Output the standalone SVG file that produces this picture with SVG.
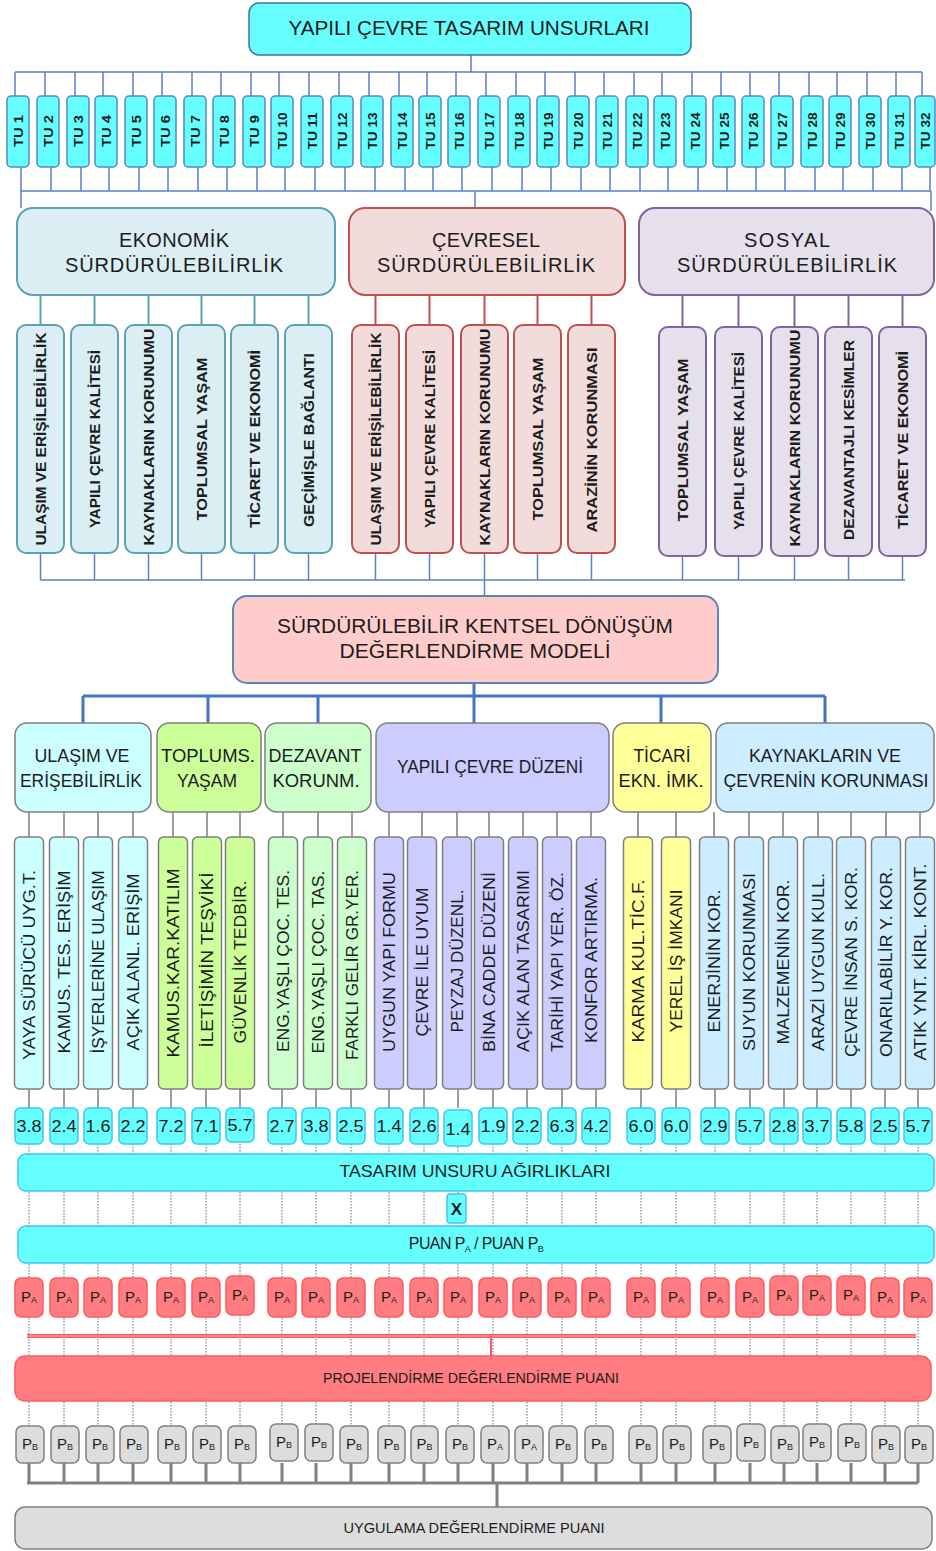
<svg xmlns="http://www.w3.org/2000/svg" width="936" height="1551" viewBox="0 0 936 1551">
<style>
text{font-family:"Liberation Sans",Arial,sans-serif;fill:#1c1c1c;text-anchor:middle}
.cb{fill:none;stroke:#5A82C4;stroke-width:1.5}
.cteal{fill:none;stroke:#5BA3B3;stroke-width:2}
.cred{fill:none;stroke:#C0504D;stroke-width:2}
.cpur{fill:none;stroke:#8064A2;stroke-width:2}
.cthick{fill:none;stroke:#4472C4;stroke-width:3}
.cgray{fill:none;stroke:#7F7F7F;stroke-width:1.5}
.cdot{fill:none;stroke:#6A85A8;stroke-width:1.2;stroke-dasharray:1.5 1.5}
.cgthick{fill:none;stroke:#808080;stroke-width:3}
.tu{fill:#66FFFF;stroke:#5B86C5;stroke-width:1.5}
.tut{font-size:13px;font-weight:bold}
.eko{fill:#DAEEF3;stroke:#5BA3B3;stroke-width:2}
.cev{fill:#F2DCDB;stroke:#C0504D;stroke-width:2}
.sos{fill:#E6E0EC;stroke:#8064A2;stroke-width:2}
.ht{font-size:20px}
.st{font-size:15px;font-weight:bold}
.cat{stroke:#7F7F7F;stroke-width:1.5}
.catt{font-size:18px}
.cr{stroke:#7F7F7F;stroke-width:1.5}
.crt{font-size:16px}
.num{fill:#66FFFF;stroke:#3CC8F5;stroke-width:1.5}
.numt{font-size:16px}
.bar{fill:#66FFFF;stroke:#3CC8F5;stroke-width:1.5}
.pa{fill:#FF7C80;stroke:#FF5A5F;stroke-width:1.5}
.pb{fill:#DDDDDD;stroke:#808080;stroke-width:1.5}
.pt{font-size:15px}
.sb{font-size:9px}
.f1{fill:#CCFFFF}.f2{fill:#CCFF99}.f3{fill:#CCFFCC}.f4{fill:#CCCCFF}.f5{fill:#FFFF99}.f6{fill:#CCECFF}
</style>

<!-- connectors -->
<g id="connectors">
  <path class="cb" d="M471 55V72 M15 72H922 M15 72V96 M45 72V96 M75 72V96 M103 72V96 M133 72V96 M162 72V96 M192 72V96 M221 72V96 M251 72V96 M279 72V96 M309 72V96 M339 72V96 M369 72V96 M399 72V96 M427 72V96 M456 72V96 M486 72V96 M516 72V96 M545 72V96 M575 72V96 M604 72V96 M634 72V96 M662 72V96 M692 72V96 M721 72V96 M750 72V96 M779 72V96 M809 72V96 M837 72V96 M867 72V96 M896 72V96 M922 72V96"/>
  <path class="cb" d="M21 191H931 M21 167V208 M51 167V191 M81 167V191 M109 167V191 M139 167V191 M168 167V191 M198 167V191 M227 167V191 M257 167V191 M285 167V191 M315 167V191 M345 167V191 M375 167V191 M405 167V191 M433 167V191 M462 167V191 M492 167V191 M522 167V191 M551 167V191 M581 167V191 M610 167V191 M640 167V191 M668 167V191 M698 167V191 M727 167V191 M756 167V191 M785 167V191 M815 167V191 M843 167V191 M873 167V191 M902 167V191 M930 167V191 M475 191V208 M931 191V211"/>
  <path class="cteal" d="M40.5 295V325 M94.5 295V325 M148.5 295V325 M201.5 295V325 M254.5 295V325 M308.5 295V325"/>
  <path class="cred" d="M375.5 295V325 M429.5 295V325 M484.5 295V325 M537.5 295V325 M591.5 295V325"/>
  <path class="cpur" d="M682.5 295V327 M738.5 295V327 M794.5 295V327 M848.5 295V327 M902.5 295V327"/>
  <path class="cb" d="M40.5 580H905 M40.5 553V580 M94.5 553V580 M148.5 553V580 M201.5 553V580 M254.5 553V580 M308.5 553V580 M375.5 553V580 M429.5 553V580 M484.5 553V596 M537.5 553V580 M591.5 553V580 M682.5 556V580 M738.5 556V580 M794.5 556V580 M848.5 556V580 M902.5 556V580"/>
  <path class="cthick" d="M474 683V723 M83 696H825 M83 696V723 M208 696V723 M318 696V723 M661 696V723 M825 696V723"/>
  <path class="cgray" d="M29 812V837 M64 812V837 M98 812V837 M133 812V837 M173 812V837 M207 812V837 M240 812V837 M283 812V837 M318 812V837 M352 812V837 M389 812V837 M422 812V837 M457 812V837 M489 812V837 M523 812V837 M557 812V837 M591 812V837 M638 812V837 M676 812V837 M714 812V837 M749 812V837 M783 812V837 M818 812V837 M851 812V837 M886 812V837 M920 812V837"/>
  <path class="cgray" d="M29 1089V1108 M64 1089V1108 M98 1089V1108 M133 1089V1108 M171 1089V1108 M206 1089V1108 M240 1089V1108 M282 1089V1108 M316 1089V1108 M351 1089V1108 M389 1089V1108 M424 1089V1108 M458 1089V1108 M493 1089V1108 M527 1089V1108 M562 1089V1108 M596 1089V1108 M641 1089V1108 M676 1089V1108 M715 1089V1108 M750 1089V1108 M784 1089V1108 M817 1089V1108 M851 1089V1108 M885 1089V1108 M918 1089V1108"/>
  <path class="cdot" d="M29 1144V1426 M64 1144V1426 M98 1144V1426 M133 1144V1426 M171 1144V1426 M206 1144V1426 M240 1144V1426 M282 1144V1426 M316 1144V1426 M351 1144V1426 M389 1144V1426 M424 1144V1426 M458 1144V1426 M493 1144V1426 M527 1144V1426 M562 1144V1426 M596 1144V1426 M641 1144V1426 M676 1144V1426 M715 1144V1426 M750 1144V1426 M784 1144V1426 M817 1144V1426 M851 1144V1426 M885 1144V1426 M918 1144V1426"/>
  <path d="M27 1336H916" fill="none" stroke="#FF5A5F" stroke-width="4"/>
  <path d="M27 1336H916" fill="none" stroke="#FFB3B5" stroke-width="1.2"/>
  <path d="M491 1336V1356" fill="none" stroke="#FF5A5F" stroke-width="2"/>
  <path class="cgthick" d="M27 1483H918 M29 1463V1483 M64 1463V1483 M98 1463V1483 M133 1463V1483 M171 1463V1483 M206 1463V1483 M240 1463V1483 M282 1463V1483 M316 1463V1483 M351 1463V1483 M389 1463V1483 M424 1463V1483 M458 1463V1483 M493 1463V1483 M527 1463V1483 M562 1463V1483 M596 1463V1483 M641 1463V1483 M676 1463V1483 M715 1463V1483 M750 1463V1483 M784 1463V1483 M817 1463V1483 M851 1463V1483 M885 1463V1483 M918 1463V1483 M497 1483V1507"/>
</g>

<!-- root -->
<g id="root">
  <rect x="249" y="3" width="442" height="52" rx="10" fill="#66FFFF" stroke="#41719C" stroke-width="1.5"/>
  <text x="469" y="35" font-size="21" textLength="361" lengthAdjust="spacingAndGlyphs">YAPILI ÇEVRE TASARIM UNSURLARI</text>
</g>

<!-- design elements TU 1..32 -->
<g id="tu-elements">
  <g id="tu1"><rect class="tu" x="7" y="96" width="22" height="71" rx="4"/><text class="tut" transform="translate(18,131) rotate(-90)" y="4.5" textLength="32" lengthAdjust="spacingAndGlyphs">TU 1</text></g>
  <g id="tu2"><rect class="tu" x="37" y="96" width="22" height="71" rx="4"/><text class="tut" transform="translate(48,131) rotate(-90)" y="4.5" textLength="32" lengthAdjust="spacingAndGlyphs">TU 2</text></g>
  <g id="tu3"><rect class="tu" x="67" y="96" width="22" height="71" rx="4"/><text class="tut" transform="translate(78,131) rotate(-90)" y="4.5" textLength="32" lengthAdjust="spacingAndGlyphs">TU 3</text></g>
  <g id="tu4"><rect class="tu" x="95" y="96" width="22" height="71" rx="4"/><text class="tut" transform="translate(106,131) rotate(-90)" y="4.5" textLength="32" lengthAdjust="spacingAndGlyphs">TU 4</text></g>
  <g id="tu5"><rect class="tu" x="125" y="96" width="22" height="71" rx="4"/><text class="tut" transform="translate(136,131) rotate(-90)" y="4.5" textLength="32" lengthAdjust="spacingAndGlyphs">TU 5</text></g>
  <g id="tu6"><rect class="tu" x="154" y="96" width="22" height="71" rx="4"/><text class="tut" transform="translate(165,131) rotate(-90)" y="4.5" textLength="32" lengthAdjust="spacingAndGlyphs">TU 6</text></g>
  <g id="tu7"><rect class="tu" x="184" y="96" width="22" height="71" rx="4"/><text class="tut" transform="translate(195,131) rotate(-90)" y="4.5" textLength="32" lengthAdjust="spacingAndGlyphs">TU 7</text></g>
  <g id="tu8"><rect class="tu" x="213" y="96" width="22" height="71" rx="4"/><text class="tut" transform="translate(224,131) rotate(-90)" y="4.5" textLength="32" lengthAdjust="spacingAndGlyphs">TU 8</text></g>
  <g id="tu9"><rect class="tu" x="243" y="96" width="22" height="71" rx="4"/><text class="tut" transform="translate(254,131) rotate(-90)" y="4.5" textLength="32" lengthAdjust="spacingAndGlyphs">TU 9</text></g>
  <g id="tu10"><rect class="tu" x="271" y="96" width="22" height="71" rx="4"/><text class="tut" transform="translate(282,131) rotate(-90)" y="4.5" textLength="37" lengthAdjust="spacingAndGlyphs">TU 10</text></g>
  <g id="tu11"><rect class="tu" x="301" y="96" width="22" height="71" rx="4"/><text class="tut" transform="translate(312,131) rotate(-90)" y="4.5" textLength="37" lengthAdjust="spacingAndGlyphs">TU 11</text></g>
  <g id="tu12"><rect class="tu" x="331" y="96" width="22" height="71" rx="4"/><text class="tut" transform="translate(342,131) rotate(-90)" y="4.5" textLength="37" lengthAdjust="spacingAndGlyphs">TU 12</text></g>
  <g id="tu13"><rect class="tu" x="361" y="96" width="22" height="71" rx="4"/><text class="tut" transform="translate(372,131) rotate(-90)" y="4.5" textLength="37" lengthAdjust="spacingAndGlyphs">TU 13</text></g>
  <g id="tu14"><rect class="tu" x="391" y="96" width="22" height="71" rx="4"/><text class="tut" transform="translate(402,131) rotate(-90)" y="4.5" textLength="37" lengthAdjust="spacingAndGlyphs">TU 14</text></g>
  <g id="tu15"><rect class="tu" x="419" y="96" width="22" height="71" rx="4"/><text class="tut" transform="translate(430,131) rotate(-90)" y="4.5" textLength="37" lengthAdjust="spacingAndGlyphs">TU 15</text></g>
  <g id="tu16"><rect class="tu" x="448" y="96" width="22" height="71" rx="4"/><text class="tut" transform="translate(459,131) rotate(-90)" y="4.5" textLength="37" lengthAdjust="spacingAndGlyphs">TU 16</text></g>
  <g id="tu17"><rect class="tu" x="478" y="96" width="22" height="71" rx="4"/><text class="tut" transform="translate(489,131) rotate(-90)" y="4.5" textLength="37" lengthAdjust="spacingAndGlyphs">TU 17</text></g>
  <g id="tu18"><rect class="tu" x="508" y="96" width="22" height="71" rx="4"/><text class="tut" transform="translate(519,131) rotate(-90)" y="4.5" textLength="37" lengthAdjust="spacingAndGlyphs">TU 18</text></g>
  <g id="tu19"><rect class="tu" x="537" y="96" width="22" height="71" rx="4"/><text class="tut" transform="translate(548,131) rotate(-90)" y="4.5" textLength="37" lengthAdjust="spacingAndGlyphs">TU 19</text></g>
  <g id="tu20"><rect class="tu" x="567" y="96" width="22" height="71" rx="4"/><text class="tut" transform="translate(578,131) rotate(-90)" y="4.5" textLength="37" lengthAdjust="spacingAndGlyphs">TU 20</text></g>
  <g id="tu21"><rect class="tu" x="596" y="96" width="22" height="71" rx="4"/><text class="tut" transform="translate(607,131) rotate(-90)" y="4.5" textLength="37" lengthAdjust="spacingAndGlyphs">TU 21</text></g>
  <g id="tu22"><rect class="tu" x="626" y="96" width="22" height="71" rx="4"/><text class="tut" transform="translate(637,131) rotate(-90)" y="4.5" textLength="37" lengthAdjust="spacingAndGlyphs">TU 22</text></g>
  <g id="tu23"><rect class="tu" x="654" y="96" width="22" height="71" rx="4"/><text class="tut" transform="translate(665,131) rotate(-90)" y="4.5" textLength="37" lengthAdjust="spacingAndGlyphs">TU 23</text></g>
  <g id="tu24"><rect class="tu" x="684" y="96" width="22" height="71" rx="4"/><text class="tut" transform="translate(695,131) rotate(-90)" y="4.5" textLength="37" lengthAdjust="spacingAndGlyphs">TU 24</text></g>
  <g id="tu25"><rect class="tu" x="713" y="96" width="22" height="71" rx="4"/><text class="tut" transform="translate(724,131) rotate(-90)" y="4.5" textLength="37" lengthAdjust="spacingAndGlyphs">TU 25</text></g>
  <g id="tu26"><rect class="tu" x="742" y="96" width="22" height="71" rx="4"/><text class="tut" transform="translate(753,131) rotate(-90)" y="4.5" textLength="37" lengthAdjust="spacingAndGlyphs">TU 26</text></g>
  <g id="tu27"><rect class="tu" x="771" y="96" width="22" height="71" rx="4"/><text class="tut" transform="translate(782,131) rotate(-90)" y="4.5" textLength="37" lengthAdjust="spacingAndGlyphs">TU 27</text></g>
  <g id="tu28"><rect class="tu" x="801" y="96" width="22" height="71" rx="4"/><text class="tut" transform="translate(812,131) rotate(-90)" y="4.5" textLength="37" lengthAdjust="spacingAndGlyphs">TU 28</text></g>
  <g id="tu29"><rect class="tu" x="829" y="96" width="22" height="71" rx="4"/><text class="tut" transform="translate(840,131) rotate(-90)" y="4.5" textLength="37" lengthAdjust="spacingAndGlyphs">TU 29</text></g>
  <g id="tu30"><rect class="tu" x="859" y="96" width="22" height="71" rx="4"/><text class="tut" transform="translate(870,131) rotate(-90)" y="4.5" textLength="37" lengthAdjust="spacingAndGlyphs">TU 30</text></g>
  <g id="tu31"><rect class="tu" x="888" y="96" width="22" height="71" rx="4"/><text class="tut" transform="translate(899,131) rotate(-90)" y="4.5" textLength="37" lengthAdjust="spacingAndGlyphs">TU 31</text></g>
  <g id="tu32"><rect class="tu" x="915" y="96" width="20" height="71" rx="4"/><text class="tut" transform="translate(925,131) rotate(-90)" y="4.5" textLength="37" lengthAdjust="spacingAndGlyphs">TU 32</text></g>
</g>

<!-- sustainability headings -->
<g id="ekonomik">
  <rect class="eko" x="17" y="208" width="318" height="87" rx="16"/>
  <text class="ht" x="174" y="247" textLength="110" lengthAdjust="spacing">EKONOMİK</text>
  <text class="ht" x="174" y="272" textLength="218" lengthAdjust="spacing">SÜRDÜRÜLEBİLİRLİK</text>
</g>
<g id="cevresel">
  <rect class="cev" x="349" y="208" width="276" height="87" rx="16"/>
  <text class="ht" x="486" y="247" textLength="108" lengthAdjust="spacing">ÇEVRESEL</text>
  <text class="ht" x="486" y="272" textLength="218" lengthAdjust="spacing">SÜRDÜRÜLEBİLİRLİK</text>
</g>
<g id="sosyal">
  <rect class="sos" x="639" y="208" width="295" height="87" rx="16"/>
  <text class="ht" x="787" y="247" textLength="86" lengthAdjust="spacing">SOSYAL</text>
  <text class="ht" x="787" y="272" textLength="220" lengthAdjust="spacing">SÜRDÜRÜLEBİLİRLİK</text>
</g>

<!-- sustainability sub-themes -->
<g id="eko-sub">
  <g id="eko1"><rect class="eko" x="17" y="325" width="47" height="228" rx="9"/><text class="st" transform="translate(40.5,439) rotate(-90)" y="5" textLength="213" lengthAdjust="spacingAndGlyphs">ULAŞIM VE ERİŞİLEBİLİRLİK</text></g>
  <g id="eko2"><rect class="eko" x="71" y="325" width="47" height="228" rx="9"/><text class="st" transform="translate(94.5,439) rotate(-90)" y="5" textLength="178" lengthAdjust="spacingAndGlyphs">YAPILI ÇEVRE KALİTESİ</text></g>
  <g id="eko3"><rect class="eko" x="125" y="325" width="47" height="228" rx="9"/><text class="st" transform="translate(148.5,437) rotate(-90)" y="5" textLength="217" lengthAdjust="spacingAndGlyphs">KAYNAKLARIN KORUNUMU</text></g>
  <g id="eko4"><rect class="eko" x="178" y="325" width="47" height="228" rx="9"/><text class="st" transform="translate(201.5,439) rotate(-90)" y="5" textLength="163" lengthAdjust="spacingAndGlyphs">TOPLUMSAL YAŞAM</text></g>
  <g id="eko5"><rect class="eko" x="231" y="325" width="47" height="228" rx="9"/><text class="st" transform="translate(254.5,439) rotate(-90)" y="5" textLength="178" lengthAdjust="spacingAndGlyphs">TİCARET VE EKONOMİ</text></g>
  <g id="eko6"><rect class="eko" x="285" y="325" width="47" height="228" rx="9"/><text class="st" transform="translate(308.5,440) rotate(-90)" y="5" textLength="174" lengthAdjust="spacingAndGlyphs">GEÇİMİŞLE BAĞLANTI</text></g>
</g>
<g id="cev-sub">
  <g id="cev1"><rect class="cev" x="352" y="325" width="47" height="228" rx="9"/><text class="st" transform="translate(375.5,439) rotate(-90)" y="5" textLength="213" lengthAdjust="spacingAndGlyphs">ULAŞIM VE ERİŞİLEBİLİRLİK</text></g>
  <g id="cev2"><rect class="cev" x="406" y="325" width="47" height="228" rx="9"/><text class="st" transform="translate(429.5,439) rotate(-90)" y="5" textLength="178" lengthAdjust="spacingAndGlyphs">YAPILI ÇEVRE KALİTESİ</text></g>
  <g id="cev3"><rect class="cev" x="461" y="325" width="47" height="228" rx="9"/><text class="st" transform="translate(484.5,437) rotate(-90)" y="5" textLength="217" lengthAdjust="spacingAndGlyphs">KAYNAKLARIN KORUNUMU</text></g>
  <g id="cev4"><rect class="cev" x="514" y="325" width="47" height="228" rx="9"/><text class="st" transform="translate(537.5,439) rotate(-90)" y="5" textLength="163" lengthAdjust="spacingAndGlyphs">TOPLUMSAL YAŞAM</text></g>
  <g id="cev5"><rect class="cev" x="568" y="325" width="47" height="228" rx="9"/><text class="st" transform="translate(591.5,440) rotate(-90)" y="5" textLength="185" lengthAdjust="spacingAndGlyphs">ARAZİNİN KORUNMASI</text></g>
</g>
<g id="sos-sub">
  <g id="sos1"><rect class="sos" x="659" y="327" width="47" height="229" rx="9"/><text class="st" transform="translate(682.5,440) rotate(-90)" y="5" textLength="163" lengthAdjust="spacingAndGlyphs">TOPLUMSAL YAŞAM</text></g>
  <g id="sos2"><rect class="sos" x="715" y="327" width="47" height="229" rx="9"/><text class="st" transform="translate(738.5,441) rotate(-90)" y="5" textLength="178" lengthAdjust="spacingAndGlyphs">YAPILI ÇEVRE KALİTESİ</text></g>
  <g id="sos3"><rect class="sos" x="771" y="327" width="47" height="229" rx="9"/><text class="st" transform="translate(794.5,438) rotate(-90)" y="5" textLength="217" lengthAdjust="spacingAndGlyphs">KAYNAKLARIN KORUNUMU</text></g>
  <g id="sos4"><rect class="sos" x="825" y="327" width="47" height="229" rx="9"/><text class="st" transform="translate(848.5,440) rotate(-90)" y="5" textLength="200" lengthAdjust="spacingAndGlyphs">DEZAVANTAJLI KESİMLER</text></g>
  <g id="sos5"><rect class="sos" x="879" y="327" width="47" height="229" rx="9"/><text class="st" transform="translate(902.5,440) rotate(-90)" y="5" textLength="178" lengthAdjust="spacingAndGlyphs">TİCARET VE EKONOMİ</text></g>
</g>

<!-- model -->
<g id="model">
  <rect x="233" y="596" width="485" height="87" rx="14" fill="#FFCCCC" stroke="#5D84B8" stroke-width="2"/>
  <text x="475" y="633" font-size="21" textLength="396" lengthAdjust="spacingAndGlyphs">SÜRDÜRÜLEBİLİR KENTSEL DÖNÜŞÜM</text>
  <text x="475" y="658" font-size="21" textLength="271" lengthAdjust="spacingAndGlyphs">DEĞERLENDİRME MODELİ</text>
</g>

<!-- categories -->
<g id="cat-ulasim"><rect class="cat f1" x="15" y="723" width="136" height="89" rx="12"/><text class="catt" x="82" y="762" textLength="95" lengthAdjust="spacingAndGlyphs">ULAŞIM VE</text><text class="catt" x="81" y="787" textLength="122" lengthAdjust="spacingAndGlyphs">ERİŞEBİLİRLİK</text></g>
<g id="cat-toplum"><rect class="cat f2" x="157" y="723" width="104" height="89" rx="12"/><text class="catt" x="208" y="762" textLength="94" lengthAdjust="spacingAndGlyphs">TOPLUMS.</text><text class="catt" x="207" y="787" textLength="60" lengthAdjust="spacingAndGlyphs">YAŞAM</text></g>
<g id="cat-dezavant"><rect class="cat f3" x="265" y="723" width="106" height="89" rx="12"/><text class="catt" x="315" y="762" textLength="93" lengthAdjust="spacingAndGlyphs">DEZAVANT</text><text class="catt" x="316" y="787" textLength="87" lengthAdjust="spacingAndGlyphs">KORUNM.</text></g>
<g id="cat-yapili"><rect class="cat f4" x="376" y="723" width="233" height="89" rx="12"/><text class="catt" x="490" y="773" textLength="186" lengthAdjust="spacingAndGlyphs">YAPILI ÇEVRE DÜZENİ</text></g>
<g id="cat-ticari"><rect class="cat f5" x="613" y="723" width="98" height="89" rx="12"/><text class="catt" x="662" y="762" textLength="57" lengthAdjust="spacingAndGlyphs">TİCARİ</text><text class="catt" x="661" y="787" textLength="85" lengthAdjust="spacingAndGlyphs">EKN. İMK.</text></g>
<g id="cat-kaynak"><rect class="cat f6" x="716" y="723" width="218" height="89" rx="12"/><text class="catt" x="825" y="762" textLength="152" lengthAdjust="spacingAndGlyphs">KAYNAKLARIN VE</text><text class="catt" x="826" y="787" textLength="205" lengthAdjust="spacingAndGlyphs">ÇEVRENİN KORUNMASI</text></g>

<!-- criteria -->
<g id="criteria">
  <g id="k1"><rect class="cr f1" x="14.5" y="837" width="29" height="252" rx="5"/><text class="crt" transform="translate(29,965) rotate(-90)" y="5.5" textLength="190" lengthAdjust="spacingAndGlyphs">YAYA SÜRÜCÜ UYG.T.</text></g>
  <g id="k2"><rect class="cr f1" x="49.5" y="837" width="29" height="252" rx="5"/><text class="crt" transform="translate(64,962) rotate(-90)" y="5.5" textLength="183" lengthAdjust="spacingAndGlyphs">KAMUS. TES.  ERİŞİM</text></g>
  <g id="k3"><rect class="cr f1" x="83.5" y="837" width="29" height="252" rx="5"/><text class="crt" transform="translate(98,962) rotate(-90)" y="5.5" textLength="183" lengthAdjust="spacingAndGlyphs">İŞYERLERİNE ULAŞIM</text></g>
  <g id="k4"><rect class="cr f1" x="118.5" y="837" width="29" height="252" rx="5"/><text class="crt" transform="translate(133,962) rotate(-90)" y="5.5" textLength="177" lengthAdjust="spacingAndGlyphs">AÇIK ALANL. ERİŞİM</text></g>
  <g id="k5"><rect class="cr f2" x="158.5" y="837" width="29" height="252" rx="5"/><text class="crt" transform="translate(173,963) rotate(-90)" y="5.5" textLength="189" lengthAdjust="spacingAndGlyphs">KAMUS.KAR.KATILIM</text></g>
  <g id="k6"><rect class="cr f2" x="192.5" y="837" width="29" height="252" rx="5"/><text class="crt" transform="translate(207,960) rotate(-90)" y="5.5" textLength="175" lengthAdjust="spacingAndGlyphs">İLETİŞİMİN TEŞVİKİ</text></g>
  <g id="k7"><rect class="cr f2" x="225.5" y="837" width="29" height="252" rx="5"/><text class="crt" transform="translate(240,962) rotate(-90)" y="5.5" textLength="163" lengthAdjust="spacingAndGlyphs">GÜVENLİK TEDBİR.</text></g>
  <g id="k8"><rect class="cr f3" x="268.5" y="837" width="29" height="252" rx="5"/><text class="crt" transform="translate(283,961) rotate(-90)" y="5.5" textLength="182" lengthAdjust="spacingAndGlyphs">ENG.YAŞLI ÇOC. TES.</text></g>
  <g id="k9"><rect class="cr f3" x="303.5" y="837" width="29" height="252" rx="5"/><text class="crt" transform="translate(318,962) rotate(-90)" y="5.5" textLength="183" lengthAdjust="spacingAndGlyphs">ENG.YAŞLI ÇOC. TAS.</text></g>
  <g id="k10"><rect class="cr f3" x="337.5" y="837" width="29" height="252" rx="5"/><text class="crt" transform="translate(352,965) rotate(-90)" y="5.5" textLength="190" lengthAdjust="spacingAndGlyphs">FARKLI GELİR GR.YER.</text></g>
  <g id="k11"><rect class="cr f4" x="374.5" y="837" width="29" height="252" rx="5"/><text class="crt" transform="translate(389,962) rotate(-90)" y="5.5" textLength="180" lengthAdjust="spacingAndGlyphs">UYGUN YAPI FORMU</text></g>
  <g id="k12"><rect class="cr f4" x="407.5" y="837" width="29" height="252" rx="5"/><text class="crt" transform="translate(422,962) rotate(-90)" y="5.5" textLength="149" lengthAdjust="spacingAndGlyphs">ÇEVRE İLE UYUM</text></g>
  <g id="k13"><rect class="cr f4" x="442.5" y="837" width="29" height="252" rx="5"/><text class="crt" transform="translate(457,961) rotate(-90)" y="5.5" textLength="143" lengthAdjust="spacingAndGlyphs">PEYZAJ DÜZENL.</text></g>
  <g id="k14"><rect class="cr f4" x="474.5" y="837" width="29" height="252" rx="5"/><text class="crt" transform="translate(489,962) rotate(-90)" y="5.5" textLength="180" lengthAdjust="spacingAndGlyphs">BİNA CADDE DÜZENİ</text></g>
  <g id="k15"><rect class="cr f4" x="508.5" y="837" width="29" height="252" rx="5"/><text class="crt" transform="translate(523,961) rotate(-90)" y="5.5" textLength="182" lengthAdjust="spacingAndGlyphs">AÇIK ALAN TASARIMI</text></g>
  <g id="k16"><rect class="cr f4" x="542.5" y="837" width="29" height="252" rx="5"/><text class="crt" transform="translate(557,962) rotate(-90)" y="5.5" textLength="180" lengthAdjust="spacingAndGlyphs">TARİHİ YAPI YER. ÖZ.</text></g>
  <g id="k17"><rect class="cr f4" x="576.5" y="837" width="29" height="252" rx="5"/><text class="crt" transform="translate(591,960) rotate(-90)" y="5.5" textLength="166" lengthAdjust="spacingAndGlyphs">KONFOR ARTIRMA.</text></g>
  <g id="k18"><rect class="cr f5" x="623.5" y="837" width="29" height="252" rx="5"/><text class="crt" transform="translate(638,961) rotate(-90)" y="5.5" textLength="163" lengthAdjust="spacingAndGlyphs">KARMA KUL.TİC.F.</text></g>
  <g id="k19"><rect class="cr f5" x="661.5" y="837" width="29" height="252" rx="5"/><text class="crt" transform="translate(676,961) rotate(-90)" y="5.5" textLength="143" lengthAdjust="spacingAndGlyphs">YEREL İŞ İMKANI</text></g>
  <g id="k20"><rect class="cr f6" x="699.5" y="837" width="29" height="252" rx="5"/><text class="crt" transform="translate(714,961) rotate(-90)" y="5.5" textLength="143" lengthAdjust="spacingAndGlyphs">ENERJİNİN KOR.</text></g>
  <g id="k21"><rect class="cr f6" x="734.5" y="837" width="29" height="252" rx="5"/><text class="crt" transform="translate(749,962) rotate(-90)" y="5.5" textLength="178" lengthAdjust="spacingAndGlyphs">SUYUN KORUNMASI</text></g>
  <g id="k22"><rect class="cr f6" x="768.5" y="837" width="29" height="252" rx="5"/><text class="crt" transform="translate(783,962) rotate(-90)" y="5.5" textLength="165" lengthAdjust="spacingAndGlyphs">MALZEMENİN KOR.</text></g>
  <g id="k23"><rect class="cr f6" x="803.5" y="837" width="29" height="252" rx="5"/><text class="crt" transform="translate(818,962) rotate(-90)" y="5.5" textLength="178" lengthAdjust="spacingAndGlyphs">ARAZİ UYGUN KULL.</text></g>
  <g id="k24"><rect class="cr f6" x="836.5" y="837" width="29" height="252" rx="5"/><text class="crt" transform="translate(851,962) rotate(-90)" y="5.5" textLength="190" lengthAdjust="spacingAndGlyphs">ÇEVRE  İNSAN S. KOR.</text></g>
  <g id="k25"><rect class="cr f6" x="871.5" y="837" width="29" height="252" rx="5"/><text class="crt" transform="translate(886,962) rotate(-90)" y="5.5" textLength="190" lengthAdjust="spacingAndGlyphs">ONARILABİLİR Y. KOR.</text></g>
  <g id="k26"><rect class="cr f6" x="905.5" y="837" width="29" height="252" rx="5"/><text class="crt" transform="translate(920,962) rotate(-90)" y="5.5" textLength="197" lengthAdjust="spacingAndGlyphs">ATIK YNT. KİRL. KONT.</text></g>
</g>

<!-- weights -->
<g id="weights">
  <g><rect class="num" x="15" y="1108" width="28" height="36" rx="5"/><text class="numt" x="29" y="1132" textLength="25" lengthAdjust="spacingAndGlyphs">3.8</text></g>
  <g><rect class="num" x="50" y="1108" width="28" height="36" rx="5"/><text class="numt" x="64" y="1132" textLength="25" lengthAdjust="spacingAndGlyphs">2.4</text></g>
  <g><rect class="num" x="84" y="1108" width="28" height="36" rx="5"/><text class="numt" x="98" y="1132" textLength="25" lengthAdjust="spacingAndGlyphs">1.6</text></g>
  <g><rect class="num" x="119" y="1108" width="28" height="36" rx="5"/><text class="numt" x="133" y="1132" textLength="25" lengthAdjust="spacingAndGlyphs">2.2</text></g>
  <g><rect class="num" x="157" y="1108" width="28" height="36" rx="5"/><text class="numt" x="171" y="1132" textLength="25" lengthAdjust="spacingAndGlyphs">7.2</text></g>
  <g><rect class="num" x="192" y="1108" width="28" height="36" rx="5"/><text class="numt" x="206" y="1132" textLength="25" lengthAdjust="spacingAndGlyphs">7.1</text></g>
  <g><rect class="num" x="226" y="1108" width="28" height="34" rx="5"/><text class="numt" x="240" y="1131" textLength="25" lengthAdjust="spacingAndGlyphs">5.7</text></g>
  <g><rect class="num" x="268" y="1108" width="28" height="36" rx="5"/><text class="numt" x="282" y="1132" textLength="25" lengthAdjust="spacingAndGlyphs">2.7</text></g>
  <g><rect class="num" x="302" y="1108" width="28" height="36" rx="5"/><text class="numt" x="316" y="1132" textLength="25" lengthAdjust="spacingAndGlyphs">3.8</text></g>
  <g><rect class="num" x="337" y="1108" width="28" height="36" rx="5"/><text class="numt" x="351" y="1132" textLength="25" lengthAdjust="spacingAndGlyphs">2.5</text></g>
  <g><rect class="num" x="375" y="1108" width="28" height="36" rx="5"/><text class="numt" x="389" y="1132" textLength="25" lengthAdjust="spacingAndGlyphs">1.4</text></g>
  <g><rect class="num" x="410" y="1108" width="28" height="36" rx="5"/><text class="numt" x="424" y="1132" textLength="25" lengthAdjust="spacingAndGlyphs">2.6</text></g>
  <g><rect class="num" x="444" y="1110" width="28" height="36" rx="5"/><text class="numt" x="458" y="1135" textLength="25" lengthAdjust="spacingAndGlyphs">1.4</text></g>
  <g><rect class="num" x="479" y="1108" width="28" height="36" rx="5"/><text class="numt" x="493" y="1132" textLength="25" lengthAdjust="spacingAndGlyphs">1.9</text></g>
  <g><rect class="num" x="513" y="1108" width="28" height="36" rx="5"/><text class="numt" x="527" y="1132" textLength="25" lengthAdjust="spacingAndGlyphs">2.2</text></g>
  <g><rect class="num" x="548" y="1108" width="28" height="36" rx="5"/><text class="numt" x="562" y="1132" textLength="25" lengthAdjust="spacingAndGlyphs">6.3</text></g>
  <g><rect class="num" x="582" y="1108" width="28" height="36" rx="5"/><text class="numt" x="596" y="1132" textLength="25" lengthAdjust="spacingAndGlyphs">4.2</text></g>
  <g><rect class="num" x="627" y="1108" width="28" height="36" rx="5"/><text class="numt" x="641" y="1132" textLength="25" lengthAdjust="spacingAndGlyphs">6.0</text></g>
  <g><rect class="num" x="662" y="1108" width="28" height="36" rx="5"/><text class="numt" x="676" y="1132" textLength="25" lengthAdjust="spacingAndGlyphs">6.0</text></g>
  <g><rect class="num" x="701" y="1108" width="28" height="36" rx="5"/><text class="numt" x="715" y="1132" textLength="25" lengthAdjust="spacingAndGlyphs">2.9</text></g>
  <g><rect class="num" x="736" y="1108" width="28" height="36" rx="5"/><text class="numt" x="750" y="1132" textLength="25" lengthAdjust="spacingAndGlyphs">5.7</text></g>
  <g><rect class="num" x="770" y="1108" width="28" height="36" rx="5"/><text class="numt" x="784" y="1132" textLength="25" lengthAdjust="spacingAndGlyphs">2.8</text></g>
  <g><rect class="num" x="803" y="1108" width="28" height="36" rx="5"/><text class="numt" x="817" y="1132" textLength="25" lengthAdjust="spacingAndGlyphs">3.7</text></g>
  <g><rect class="num" x="837" y="1108" width="28" height="36" rx="5"/><text class="numt" x="851" y="1132" textLength="25" lengthAdjust="spacingAndGlyphs">5.8</text></g>
  <g><rect class="num" x="871" y="1108" width="28" height="36" rx="5"/><text class="numt" x="885" y="1132" textLength="25" lengthAdjust="spacingAndGlyphs">2.5</text></g>
  <g><rect class="num" x="904" y="1108" width="28" height="36" rx="5"/><text class="numt" x="918" y="1132" textLength="25" lengthAdjust="spacingAndGlyphs">5.7</text></g>
</g>

<g id="weights-bar">
  <rect class="bar" x="18" y="1154" width="916" height="37" rx="8"/>
  <text x="475" y="1177" font-size="17" textLength="271" lengthAdjust="spacingAndGlyphs">TASARIM UNSURU AĞIRLIKLARI</text>
</g>
<g id="times">
  <rect class="bar" x="447" y="1194" width="19" height="29" rx="3"/>
  <text x="456.5" y="1215" font-size="17" font-weight="bold">X</text>
</g>
<g id="score-bar">
  <rect class="bar" x="18" y="1226" width="916" height="37" rx="8"/>
  <text x="476" y="1249" font-size="16" letter-spacing="-0.6">PUAN P<tspan class="sb" dy="3">A</tspan><tspan dy="-3"> / PUAN P</tspan><tspan class="sb" dy="3">B</tspan></text>
</g>

<!-- project scores -->
<g id="pa-row">
  <g><rect class="pa" x="15" y="1278" width="28" height="39" rx="6"/><text class="pt" x="29" y="1302">P<tspan class="sb" dy="1">A</tspan></text></g>
  <g><rect class="pa" x="50" y="1278" width="28" height="39" rx="6"/><text class="pt" x="64" y="1302">P<tspan class="sb" dy="1">A</tspan></text></g>
  <g><rect class="pa" x="84" y="1278" width="28" height="39" rx="6"/><text class="pt" x="98" y="1302">P<tspan class="sb" dy="1">A</tspan></text></g>
  <g><rect class="pa" x="119" y="1278" width="28" height="39" rx="6"/><text class="pt" x="133" y="1302">P<tspan class="sb" dy="1">A</tspan></text></g>
  <g><rect class="pa" x="157" y="1278" width="28" height="39" rx="6"/><text class="pt" x="171" y="1302">P<tspan class="sb" dy="1">A</tspan></text></g>
  <g><rect class="pa" x="192" y="1278" width="28" height="39" rx="6"/><text class="pt" x="206" y="1302">P<tspan class="sb" dy="1">A</tspan></text></g>
  <g><rect class="pa" x="226" y="1276" width="28" height="39" rx="6"/><text class="pt" x="240" y="1300">P<tspan class="sb" dy="1">A</tspan></text></g>
  <g><rect class="pa" x="268" y="1278" width="28" height="39" rx="6"/><text class="pt" x="282" y="1302">P<tspan class="sb" dy="1">A</tspan></text></g>
  <g><rect class="pa" x="302" y="1278" width="28" height="39" rx="6"/><text class="pt" x="316" y="1302">P<tspan class="sb" dy="1">A</tspan></text></g>
  <g><rect class="pa" x="337" y="1278" width="28" height="39" rx="6"/><text class="pt" x="351" y="1302">P<tspan class="sb" dy="1">A</tspan></text></g>
  <g><rect class="pa" x="375" y="1278" width="28" height="39" rx="6"/><text class="pt" x="389" y="1302">P<tspan class="sb" dy="1">A</tspan></text></g>
  <g><rect class="pa" x="410" y="1278" width="28" height="39" rx="6"/><text class="pt" x="424" y="1302">P<tspan class="sb" dy="1">A</tspan></text></g>
  <g><rect class="pa" x="444" y="1278" width="28" height="39" rx="6"/><text class="pt" x="458" y="1302">P<tspan class="sb" dy="1">A</tspan></text></g>
  <g><rect class="pa" x="479" y="1278" width="28" height="39" rx="6"/><text class="pt" x="493" y="1302">P<tspan class="sb" dy="1">A</tspan></text></g>
  <g><rect class="pa" x="513" y="1278" width="28" height="39" rx="6"/><text class="pt" x="527" y="1302">P<tspan class="sb" dy="1">A</tspan></text></g>
  <g><rect class="pa" x="548" y="1278" width="28" height="39" rx="6"/><text class="pt" x="562" y="1302">P<tspan class="sb" dy="1">A</tspan></text></g>
  <g><rect class="pa" x="582" y="1278" width="28" height="39" rx="6"/><text class="pt" x="596" y="1302">P<tspan class="sb" dy="1">A</tspan></text></g>
  <g><rect class="pa" x="627" y="1278" width="28" height="39" rx="6"/><text class="pt" x="641" y="1302">P<tspan class="sb" dy="1">A</tspan></text></g>
  <g><rect class="pa" x="662" y="1278" width="28" height="39" rx="6"/><text class="pt" x="676" y="1302">P<tspan class="sb" dy="1">A</tspan></text></g>
  <g><rect class="pa" x="701" y="1278" width="28" height="39" rx="6"/><text class="pt" x="715" y="1302">P<tspan class="sb" dy="1">A</tspan></text></g>
  <g><rect class="pa" x="736" y="1278" width="28" height="39" rx="6"/><text class="pt" x="750" y="1302">P<tspan class="sb" dy="1">A</tspan></text></g>
  <g><rect class="pa" x="770" y="1276" width="28" height="39" rx="6"/><text class="pt" x="784" y="1300">P<tspan class="sb" dy="1">A</tspan></text></g>
  <g><rect class="pa" x="803" y="1276" width="28" height="39" rx="6"/><text class="pt" x="817" y="1300">P<tspan class="sb" dy="1">A</tspan></text></g>
  <g><rect class="pa" x="837" y="1276" width="28" height="39" rx="6"/><text class="pt" x="851" y="1300">P<tspan class="sb" dy="1">A</tspan></text></g>
  <g><rect class="pa" x="871" y="1278" width="28" height="39" rx="6"/><text class="pt" x="885" y="1302">P<tspan class="sb" dy="1">A</tspan></text></g>
  <g><rect class="pa" x="904" y="1278" width="28" height="39" rx="6"/><text class="pt" x="918" y="1302">P<tspan class="sb" dy="1">A</tspan></text></g>
</g>

<g id="project-score">
  <rect x="15" y="1356" width="916" height="45" rx="10" fill="#FF7C80" stroke="#FF5A5F" stroke-width="1.5"/>
  <text x="471" y="1383" font-size="14" textLength="296" lengthAdjust="spacingAndGlyphs">PROJELENDİRME DEĞERLENDİRME PUANI</text>
</g>

<!-- application scores -->
<g id="pb-row">
  <g><rect class="pb" x="16" y="1426" width="28" height="37" rx="6"/><text class="pt" x="30" y="1449">P<tspan class="sb" dy="1">B</tspan></text></g>
  <g><rect class="pb" x="51" y="1426" width="28" height="37" rx="6"/><text class="pt" x="65" y="1449">P<tspan class="sb" dy="1">B</tspan></text></g>
  <g><rect class="pb" x="86" y="1426" width="28" height="37" rx="6"/><text class="pt" x="100" y="1449">P<tspan class="sb" dy="1">B</tspan></text></g>
  <g><rect class="pb" x="120" y="1426" width="28" height="37" rx="6"/><text class="pt" x="134" y="1449">P<tspan class="sb" dy="1">B</tspan></text></g>
  <g><rect class="pb" x="158" y="1426" width="28" height="37" rx="6"/><text class="pt" x="172" y="1449">P<tspan class="sb" dy="1">B</tspan></text></g>
  <g><rect class="pb" x="193" y="1426" width="28" height="37" rx="6"/><text class="pt" x="207" y="1449">P<tspan class="sb" dy="1">B</tspan></text></g>
  <g><rect class="pb" x="228" y="1426" width="28" height="37" rx="6"/><text class="pt" x="242" y="1449">P<tspan class="sb" dy="1">B</tspan></text></g>
  <g><rect class="pb" x="270" y="1424" width="28" height="37" rx="6"/><text class="pt" x="284" y="1447">P<tspan class="sb" dy="1">B</tspan></text></g>
  <g><rect class="pb" x="305" y="1424" width="28" height="37" rx="6"/><text class="pt" x="319" y="1447">P<tspan class="sb" dy="1">B</tspan></text></g>
  <g><rect class="pb" x="340" y="1426" width="28" height="37" rx="6"/><text class="pt" x="354" y="1449">P<tspan class="sb" dy="1">B</tspan></text></g>
  <g><rect class="pb" x="378" y="1426" width="27" height="37" rx="6"/><text class="pt" x="391.5" y="1449">P<tspan class="sb" dy="1">B</tspan></text></g>
  <g><rect class="pb" x="411" y="1426" width="27" height="37" rx="6"/><text class="pt" x="424.5" y="1449">P<tspan class="sb" dy="1">B</tspan></text></g>
  <g><rect class="pb" x="446" y="1426" width="28" height="37" rx="6"/><text class="pt" x="460" y="1449">P<tspan class="sb" dy="1">B</tspan></text></g>
  <g><rect class="pb" x="481" y="1426" width="28" height="37" rx="6"/><text class="pt" x="495" y="1449">P<tspan class="sb" dy="1">A</tspan></text></g>
  <g><rect class="pb" x="515" y="1426" width="28" height="37" rx="6"/><text class="pt" x="529" y="1449">P<tspan class="sb" dy="1">A</tspan></text></g>
  <g><rect class="pb" x="549" y="1426" width="28" height="37" rx="6"/><text class="pt" x="563" y="1449">P<tspan class="sb" dy="1">B</tspan></text></g>
  <g><rect class="pb" x="585" y="1426" width="28" height="37" rx="6"/><text class="pt" x="599" y="1449">P<tspan class="sb" dy="1">B</tspan></text></g>
  <g><rect class="pb" x="629" y="1426" width="28" height="37" rx="6"/><text class="pt" x="643" y="1449">P<tspan class="sb" dy="1">B</tspan></text></g>
  <g><rect class="pb" x="663" y="1426" width="28" height="37" rx="6"/><text class="pt" x="677" y="1449">P<tspan class="sb" dy="1">B</tspan></text></g>
  <g><rect class="pb" x="703" y="1426" width="28" height="37" rx="6"/><text class="pt" x="717" y="1449">P<tspan class="sb" dy="1">B</tspan></text></g>
  <g><rect class="pb" x="737" y="1424" width="28" height="37" rx="6"/><text class="pt" x="751" y="1447">P<tspan class="sb" dy="1">B</tspan></text></g>
  <g><rect class="pb" x="771" y="1426" width="28" height="37" rx="6"/><text class="pt" x="785" y="1449">P<tspan class="sb" dy="1">B</tspan></text></g>
  <g><rect class="pb" x="803" y="1424" width="28" height="37" rx="6"/><text class="pt" x="817" y="1447">P<tspan class="sb" dy="1">B</tspan></text></g>
  <g><rect class="pb" x="838" y="1424" width="28" height="37" rx="6"/><text class="pt" x="852" y="1447">P<tspan class="sb" dy="1">B</tspan></text></g>
  <g><rect class="pb" x="872" y="1426" width="28" height="37" rx="6"/><text class="pt" x="886" y="1449">P<tspan class="sb" dy="1">B</tspan></text></g>
  <g><rect class="pb" x="905" y="1426" width="28" height="37" rx="6"/><text class="pt" x="919" y="1449">P<tspan class="sb" dy="1">B</tspan></text></g>
</g>

<g id="application-score">
  <rect x="15" y="1507" width="917" height="42" rx="10" fill="#DDDDDD" stroke="#808080" stroke-width="1.5"/>
  <text x="474" y="1533" font-size="14" textLength="261" lengthAdjust="spacingAndGlyphs">UYGULAMA DEĞERLENDİRME PUANI</text>
</g>
</svg>
